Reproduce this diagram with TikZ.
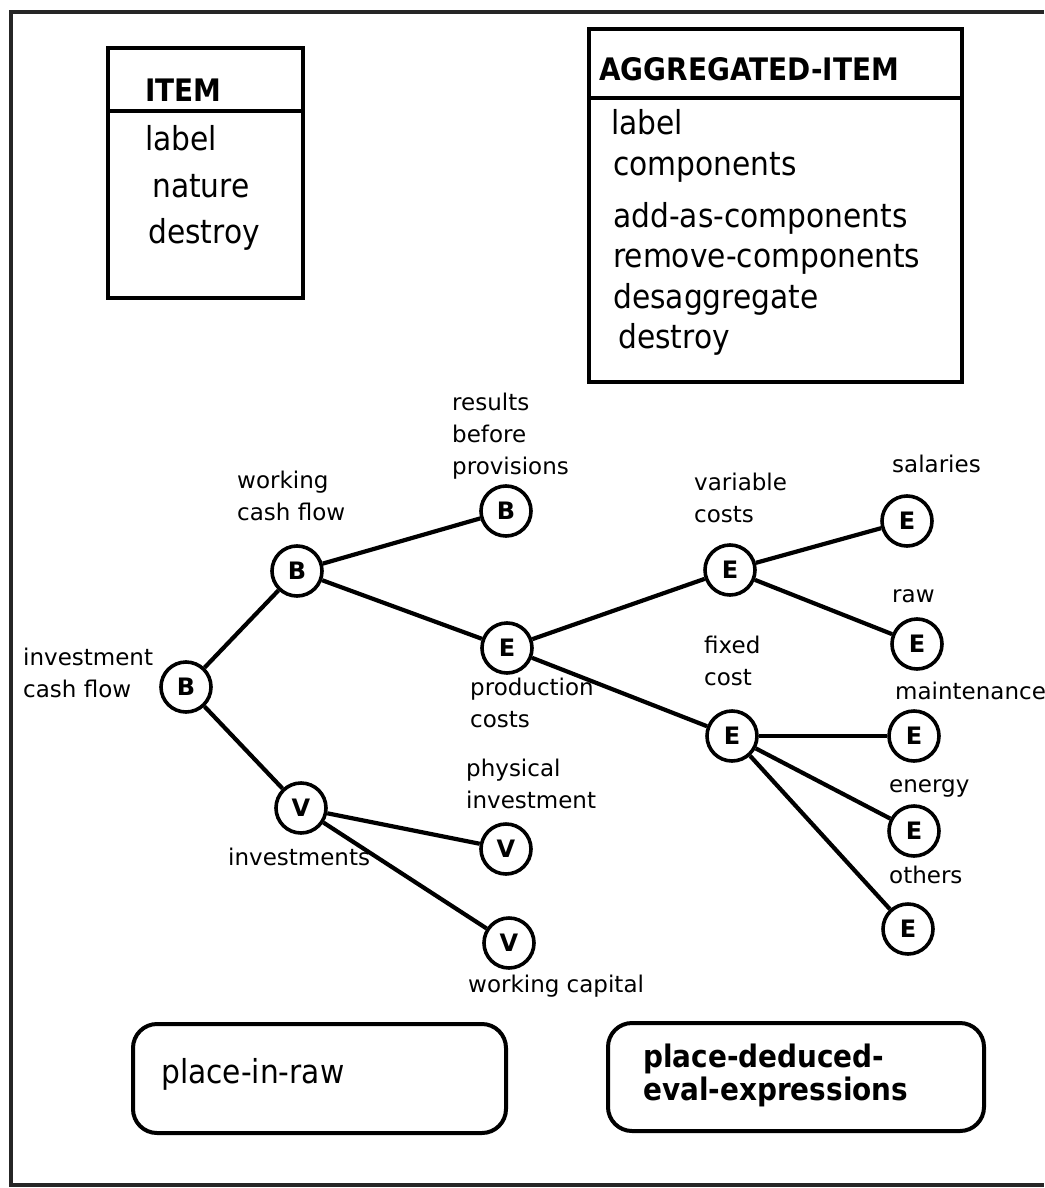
\documentclass[tikz,border=0pt]{standalone}
\usepackage{fontspec}
\setmainfont{DejaVu Sans}
\newfontfamily\boxfont{DejaVu Sans}[FakeStretch=0.9]
\begin{document}
\begin{tikzpicture}[x=1pt,y=-1pt,
  tnode/.style={circle,draw,line width=3.6pt,minimum size=50pt,inner sep=0pt,font=\fontsize{24}{24}\selectfont\bfseries},
  lbl/.style={anchor=base west,inner sep=0pt,align=left,font=\fontsize{23}{32}\selectfont},
  edge/.style={line width=4.2pt},
  boxtxt/.style={anchor=base west,inner sep=0pt,font=\boxfont\fontsize{33}{33}\selectfont},
  boxttl/.style={anchor=base west,inner sep=0pt,font=\boxfont\fontsize{31}{31}\selectfont\bfseries},
  umlbox/.style={draw,line width=4pt,inner sep=0pt},
  rbox/.style={draw,line width=4pt,rounded corners=24pt,inner sep=0pt},
  frame/.style={line width=4.5pt,black!85}]
\useasboundingbox (0,0) rectangle (1044,1188);
% outer frame
\coordinate (ftr) at (1044,12);
\coordinate (ftl) at (11,12);
\coordinate (fbl) at (11,1185);
\coordinate (fbr) at (1044,1185);
\draw[frame] (ftr) -- (ftl) -- (fbl) -- (fbr);

% ITEM class box
\node[umlbox,minimum width=195pt,minimum height=250pt] (itembox) at (205.5,173) {};
\draw[line width=3.5pt] (itembox.west |- 0,111) -- (itembox.east |- 0,111);
\node[boxttl] (itemttl) at (145,102) {ITEM};
\node[boxtxt] (itemlabel) at (145,150) {label};
\node[boxtxt] (itemnature) at (152,197) {nature};
\node[boxtxt] (itemdestroy) at (148,243) {destroy};

% AGGREGATED-ITEM class box
\node[umlbox,minimum width=373pt,minimum height=353pt] (aggbox) at (775.5,205.5) {};
\draw[line width=3.5pt] (aggbox.west |- 0,98) -- (aggbox.east |- 0,98);
\node[boxttl] (aggttl) at (599,81) {AGGREGATED-ITEM};
\node[boxtxt] (agglabel) at (611,135) {label};
\node[boxtxt] (aggcomp) at (613,175) {components};
\node[boxtxt] (aggadd) at (613,227) {add-as-components};
\node[boxtxt] (aggremove) at (613,267) {remove-components};
\node[boxtxt] (aggdes) at (613,308) {desaggregate};
\node[boxtxt] (aggdestroy) at (618,348) {destroy};

% tree nodes
\node[tnode] (icf) at (186,687) {B};
\node[tnode] (wcf) at (297,571) {B};
\node[tnode] (rbp) at (506,511) {B};
\node[tnode] (prc) at (507,648) {E};
\node[tnode] (inv) at (301,808) {V};
\node[tnode] (phy) at (506,849) {V};
\node[tnode] (wca) at (509,943) {V};
\node[tnode] (vac) at (730,570) {E};
\node[tnode] (fix) at (732,736) {E};
\node[tnode] (sal) at (907,521) {E};
\node[tnode] (raw) at (917,644) {E};
\node[tnode] (mai) at (914,736) {E};
\node[tnode] (ene) at (914,831) {E};
\node[tnode] (oth) at (908,929) {E};

% connectors
\draw[edge] (icf) -- (wcf);
\draw[edge] (icf) -- (inv);
\draw[edge] (wcf) -- (rbp);
\draw[edge] (wcf) -- (prc);
\draw[edge] (prc) -- (vac);
\draw[edge] (prc) -- (fix);
\draw[edge] (vac) -- (sal);
\draw[edge] (vac) -- (raw);
\draw[edge] (fix) -- (mai);
\draw[edge] (fix) -- (ene);
\draw[edge] (fix) -- (oth);
\draw[edge] (inv) -- (phy);
\draw[edge] (inv) -- (wca);

% labels (anchored at the baseline of their last line)
\node[lbl] (licf) at (23,697) {investment\\cash flow};
\node[lbl] (lwcf) at (237,520) {working\\cash flow};
\node[lbl] (lrbp) at (452,474) {results\\before\\provisions};
\node[lbl] (lprc) at (470,727) {production\\costs};
\node[lbl] (linv) at (228,865) {investments};
\node[lbl] (lphy) at (466,808) {physical\\investment};
\node[lbl] (lwca) at (468,992) {working capital};
\node[lbl] (lvac) at (694,522) {variable\\costs};
\node[lbl] (lfix) at (704,685) {fixed\\cost};
\node[lbl] (lsal) at (892,472) {salaries};
\node[lbl] (lraw) at (892,602) {raw};
\node[lbl] (lmai) at (895,699) {maintenance};
\node[lbl] (lene) at (889,792) {energy};
\node[lbl] (loth) at (889,883) {others};

% method boxes
\node[rbox,minimum width=373pt,minimum height=109pt] (pir) at (319.5,1078.5) {};
\node[boxtxt] (tpir) at (161,1083) {place-in-raw};
\node[rbox,minimum width=376pt,minimum height=108pt] (pde) at (796,1077) {};
\node[boxttl,align=left,font=\boxfont\fontsize{31}{33}\selectfont\bfseries] (tpde) at (643,1100) {place-deduced-\\eval-expressions};
\end{tikzpicture}
\end{document}
